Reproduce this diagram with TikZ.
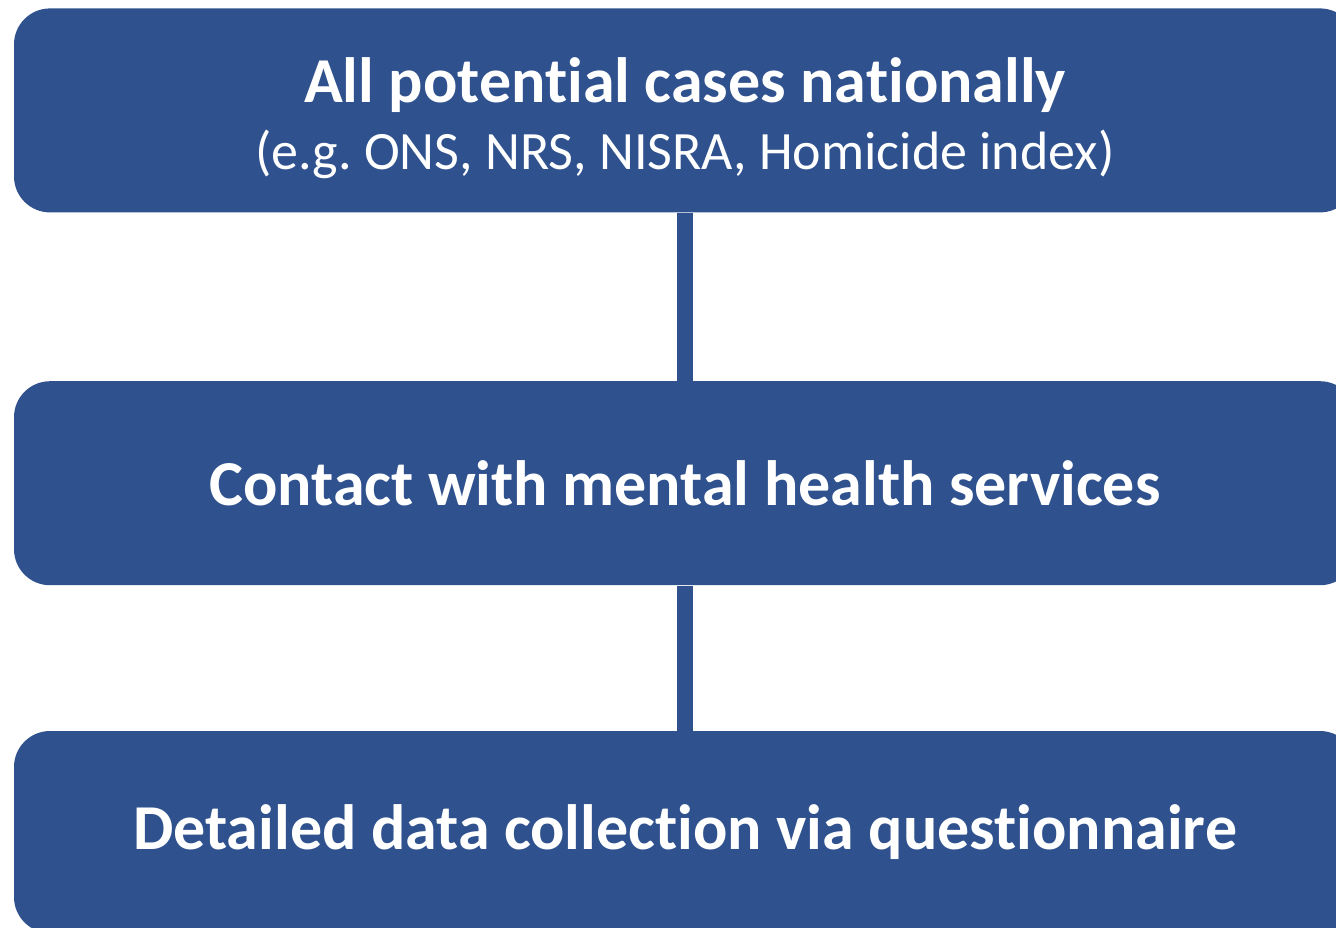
\documentclass[tikz,border=0pt]{standalone}
\usepackage{fontspec}
\setmainfont[Ligatures={NoCommon}]{Carlito}
\usepackage{xcolor}
\usepackage{tikz}
\usetikzlibrary{positioning}
\definecolor{boxblue}{HTML}{2F528F}
\tikzset{
    stage/.style={rectangle, fill=boxblue, rounded corners=18pt, minimum width=671pt, minimum height=102pt, align=center, text=white, font=\fontsize{32}{38}\selectfont\bfseries, inner sep=0pt},
    link/.style={draw=boxblue, line width=8pt},
}

\begin{document}
\frenchspacing
\begin{tikzpicture}
    \useasboundingbox (0,0) rectangle (668pt,-463.5pt);
    \clip (0,0) rectangle (668pt,-463.5pt);
    \node[stage, anchor=north] (all) at (342.5pt,-4pt) {\rule{0pt}{30pt}All potential cases nationally\\[-4.5pt]{\fontsize{27}{32}\selectfont\mdseries (e.g. ONS, NRS, NISRA, Homicide index)}};
    \node[stage, below=84pt of all] (contact) {Contact with mental health services};
    \node[stage, below=72.5pt of contact, minimum height=101pt] (detail) {Detailed data collection via questionnaire};

    \draw[link] (all) -- (contact);
    \draw[link] (contact) -- (detail);
\end{tikzpicture}
\end{document}
